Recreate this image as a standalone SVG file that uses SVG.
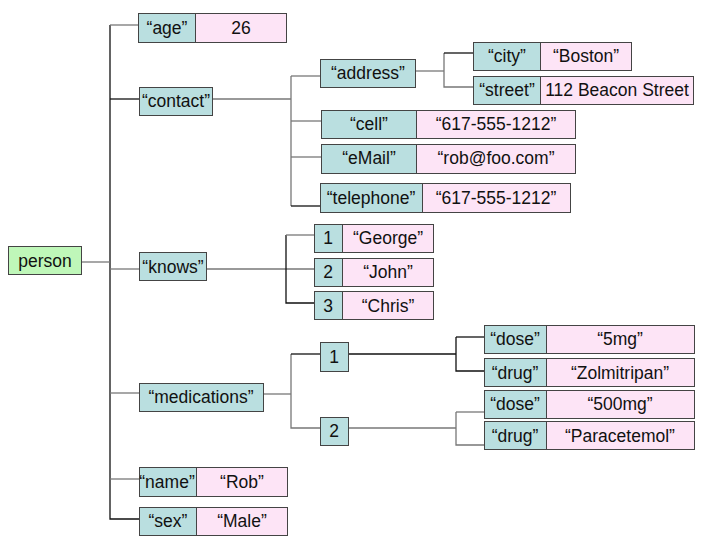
<svg xmlns="http://www.w3.org/2000/svg" width="702" height="547" viewBox="0 0 702 547">
<style>
.k{fill:#badfe0;stroke:#444;stroke-width:1}
.v{fill:#fde4f6;stroke:#444;stroke-width:1}
.p{fill:#bff7b9;stroke:#444;stroke-width:1}
text{font-family:"Liberation Sans",Arial,sans-serif;font-size:17.5px;fill:#111;text-anchor:middle;dominant-baseline:central}
.b{stroke:#111;stroke-width:1.3;fill:none}
.g{stroke:#777;stroke-width:1.3;fill:none}
</style>
<rect width="702" height="547" fill="#fff"/>
<g id="connectors">
<path class="b" d="M110 25V519H139"/>
<path class="g" d="M110 25H138"/>
<path class="b" d="M110 99H139"/>
<path class="g" d="M212 99H291"/>
<path class="g" d="M291 76V206"/>
<path class="g" d="M291 76H320"/>
<path class="g" d="M291 121H321"/>
<path class="g" d="M291 157H321"/>
<path class="b" d="M291 206H320"/>
<path class="g" d="M415 71H444"/>
<path class="g" d="M444 53V87H473"/>
<path class="b" d="M444 53H473"/>
<path class="g" d="M82 262H110"/>
<path class="g" d="M110 269H139"/>
<path class="g" d="M207 269H314"/>
<path class="b" d="M286 235V303H314"/>
<path class="g" d="M286 235H314"/>
<path class="g" d="M110 393H139"/>
<path class="g" d="M263 394H291"/>
<path class="g" d="M291 354V428H320"/>
<path class="b" d="M291 354H320"/>
<path class="b" d="M348 354H456"/>
<path class="b" d="M456 337V371H484"/>
<path class="b" d="M456 337H484"/>
<path class="g" d="M348 428H456"/>
<path class="g" d="M456 412V445H484"/>
<path class="g" d="M456 412H484"/>
<path class="g" d="M110 479H139"/>
</g>
<g id="person"><rect class="p" x="8.5" y="246.5" width="73" height="28"/><text x="45" y="261">person</text></g>
<g id="age"><rect class="k" x="138.5" y="13.5" width="57" height="29"/><rect class="v" x="195.5" y="13.5" width="91" height="29"/><text x="167" y="28">“age”</text><text x="241" y="28">26</text></g>
<g id="contact"><rect class="k" x="139.5" y="87.5" width="73" height="28"/><text x="176" y="101">“contact”</text></g>
<g id="address"><rect class="k" x="320.5" y="59.5" width="95" height="28"/><text x="368" y="73">“address”</text></g>
<g id="city"><rect class="k" x="473.5" y="42.5" width="67" height="28"/><rect class="v" x="540.5" y="42.5" width="91" height="28"/><text x="507" y="56">“city”</text><text x="586" y="56">“Boston”</text></g>
<g id="street"><rect class="k" x="473.5" y="76.5" width="67" height="28"/><rect class="v" x="540.5" y="76.5" width="153" height="28"/><text x="507" y="90">“street”</text><text x="617" y="90">112 Beacon Street</text></g>
<g id="cell"><rect class="k" x="321.5" y="110.5" width="95" height="28"/><rect class="v" x="416.5" y="110.5" width="159" height="28"/><text x="369" y="124">“cell”</text><text x="496" y="124">“617-555-1212”</text></g>
<g id="email"><rect class="k" x="321.5" y="144.5" width="95" height="29"/><rect class="v" x="416.5" y="144.5" width="159" height="29"/><text x="369" y="158">“eMail”</text><text x="496" y="158">“rob@foo.com”</text></g>
<g id="telephone"><rect class="k" x="320.5" y="183.5" width="102" height="29"/><rect class="v" x="422.5" y="183.5" width="148" height="29"/><text x="371" y="198">“telephone”</text><text x="496" y="198">“617-555-1212”</text></g>
<g id="knows"><rect class="k" x="139.5" y="252.5" width="67" height="28"/><text x="173" y="267">“knows”</text></g>
<g id="knows1"><rect class="k" x="314.5" y="224.5" width="28" height="28"/><rect class="v" x="342.5" y="224.5" width="91" height="28"/><text x="328" y="238">1</text><text x="388" y="238">“George”</text></g>
<g id="knows2"><rect class="k" x="314.5" y="258.5" width="28" height="28"/><rect class="v" x="342.5" y="258.5" width="91" height="28"/><text x="328" y="272">2</text><text x="388" y="272">“John”</text></g>
<g id="knows3"><rect class="k" x="314.5" y="291.5" width="28" height="28"/><rect class="v" x="342.5" y="291.5" width="91" height="28"/><text x="328" y="306">3</text><text x="388" y="306">“Chris”</text></g>
<g id="medications"><rect class="k" x="139.5" y="383.5" width="124" height="28"/><text x="201" y="397">“medications”</text></g>
<g id="med1"><rect class="k" x="320.5" y="342.5" width="28" height="29"/><text x="334" y="357">1</text></g>
<g id="med2"><rect class="k" x="320.5" y="417.5" width="28" height="28"/><text x="334" y="431">2</text></g>
<g id="dose1"><rect class="k" x="484.5" y="325.5" width="62" height="28"/><rect class="v" x="546.5" y="325.5" width="148" height="28"/><text x="515" y="339">“dose”</text><text x="620" y="339">“5mg”</text></g>
<g id="drug1"><rect class="k" x="484.5" y="358.5" width="62" height="28"/><rect class="v" x="546.5" y="358.5" width="148" height="28"/><text x="515" y="373">“drug”</text><text x="620" y="373">“Zolmitripan”</text></g>
<g id="dose2"><rect class="k" x="484.5" y="390.5" width="62" height="28"/><rect class="v" x="546.5" y="390.5" width="148" height="28"/><text x="515" y="404">“dose”</text><text x="620" y="404">“500mg”</text></g>
<g id="drug2"><rect class="k" x="484.5" y="421.5" width="62" height="28"/><rect class="v" x="546.5" y="421.5" width="148" height="28"/><text x="515" y="436">“drug”</text><text x="620" y="436">“Paracetemol”</text></g>
<g id="name"><rect class="k" x="139.5" y="467.5" width="57" height="29"/><rect class="v" x="196.5" y="467.5" width="91" height="29"/><text x="167" y="482">“name”</text><text x="242" y="482">“Rob”</text></g>
<g id="sex"><rect class="k" x="139.5" y="507.5" width="57" height="28"/><rect class="v" x="196.5" y="507.5" width="91" height="28"/><text x="168" y="521">“sex”</text><text x="242" y="521">“Male”</text></g>
</svg>
